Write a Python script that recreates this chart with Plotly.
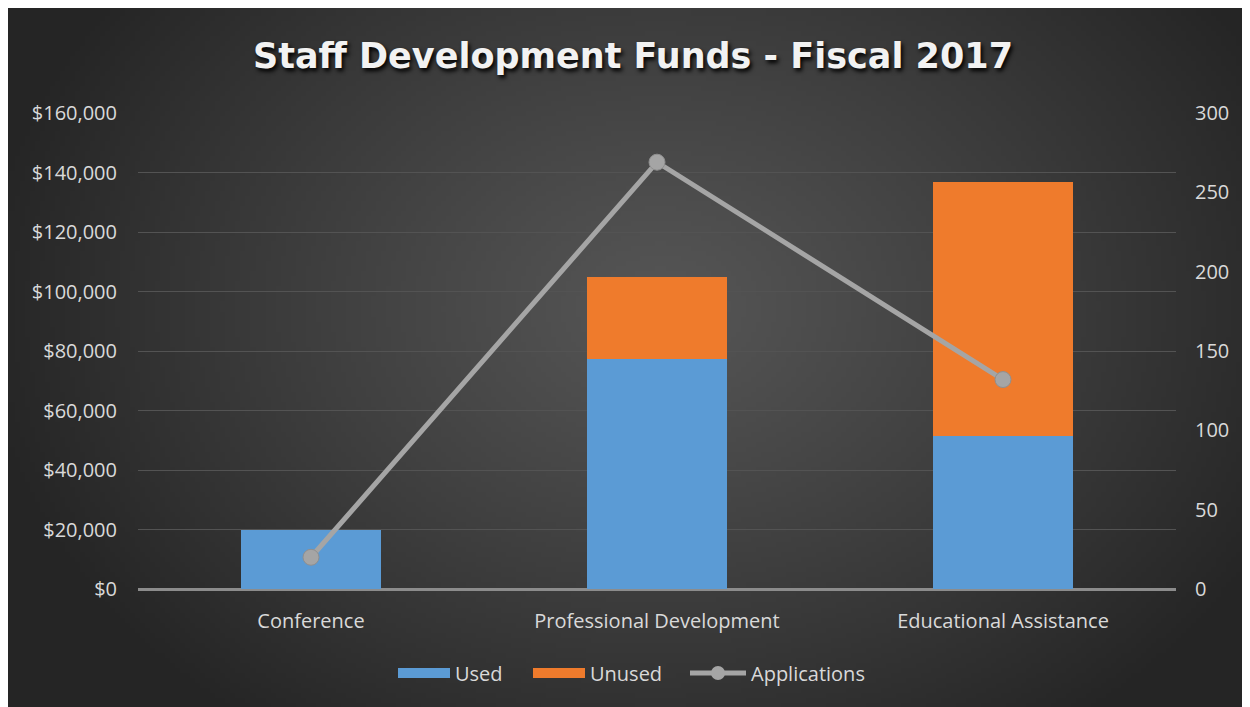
import base64, struct, zlib
import numpy as np
import plotly.graph_objects as go

categories = ["Conference", "Professional Development", "Educational Assistance"]
used = [19800, 77300, 51400]
unused = [0, 27600, 85400]
applications = [20, 269, 132]

W, H = 1250, 707
ML, MR, MT, MB = 130, 82, 105, 126
PW, PH = W - ML - MR, H - MT - MB


def make_png(arr):
    h, w, _ = arr.shape
    raw = b"".join(b"\x00" + arr[i].tobytes() for i in range(h))
    def chunk(tag, data):
        c = struct.pack(">I", len(data)) + tag + data
        return c + struct.pack(">I", zlib.crc32(tag + data) & 0xFFFFFFFF)
    png = b"\x89PNG\r\n\x1a\n"
    png += chunk(b"IHDR", struct.pack(">IIBBBBB", w, h, 8, 2, 0, 0, 0))
    png += chunk(b"IDAT", zlib.compress(raw, 9))
    png += chunk(b"IEND", b"")
    return "data:image/png;base64," + base64.b64encode(png).decode()


# radial background gradient (decoration)
gw, gh = 250, 141
yy, xx = np.mgrid[0:gh, 0:gw]
cx, cy = gw * 0.52, gh * 0.42
d = np.sqrt(((xx - cx) / (gw * 0.55)) ** 2 + ((yy - cy) / (gh * 0.75)) ** 2)
d = np.clip(d, 0, 1)
val = 0x56 + (0x25 - 0x56) * d ** 1.1
bg = np.stack([val, val, val], axis=-1).astype(np.uint8)
bg_uri = make_png(bg)

TXT = "#d9d9d9"
FONT = "Open Sans"
BLUE = "#5b9bd5"
ORANGE = "#ef7b2c"
GRAY = "#a5a5a5"

fig = go.Figure()
fig.add_trace(go.Bar(name="Used", x=categories, y=used, legendgroup="used",
                     showlegend=False,
                     marker=dict(color=BLUE, line=dict(width=0))))
fig.add_trace(go.Bar(name="Unused", x=categories, y=unused, legendgroup="unused",
                     showlegend=False,
                     marker=dict(color=ORANGE, line=dict(width=0))))
fig.add_trace(go.Scatter(name="Applications", x=categories, y=applications,
                         yaxis="y2", mode="lines+markers", showlegend=False,
                         legendgroup="apps",
                         line=dict(color=GRAY, width=5),
                         marker=dict(color=GRAY, size=16,
                                     line=dict(color="#8f8f8f", width=1))))
# legend swatches (wide rectangles like the original), one legend each
fig.add_trace(go.Scatter(name="Used", x=[None], y=[None], mode="lines",
                         legendgroup="used", legend="legend",
                         line=dict(color=BLUE, width=14)))
fig.add_trace(go.Scatter(name="Unused", x=[None], y=[None], mode="lines",
                         legendgroup="unused", legend="legend2",
                         line=dict(color=ORANGE, width=14)))
fig.add_trace(go.Scatter(name="Applications", x=[None], y=[None],
                         mode="lines+markers", legendgroup="apps",
                         legend="legend3",
                         line=dict(color=GRAY, width=5),
                         marker=dict(color=GRAY, size=14)))

leg_y = -(665 - (H - MB)) / PH


def leg(xpix, iw):
    return dict(orientation="h", x=(xpix - 13 - ML) / PW, xanchor="left",
                y=leg_y, yanchor="middle",
                font=dict(size=20, color=TXT), bgcolor="rgba(0,0,0,0)",
                itemwidth=iw)


fig.update_layout(
    width=W, height=H,
    margin=dict(l=ML, r=MR, t=MT, b=MB),
    paper_bgcolor="#262626",
    plot_bgcolor="rgba(0,0,0,0)",
    barmode="stack",
    bargap=0.595,
    font=dict(family=FONT, color=TXT, size=20),
    title=dict(text="<b>Staff Development Funds - Fiscal 2017</b>",
               x=0.5, xanchor="center", y=0.932, yanchor="middle",
               font=dict(family="DejaVu Sans", size=35, color="#f2f2f2",
                         shadow="2px 3px 4px #000000")),
    xaxis=dict(showgrid=False, showline=False, ticks="",
               tickfont=dict(size=20, color=TXT), ticklabelstandoff=18),
    yaxis=dict(range=[0, 160000], dtick=20000, tickprefix="$",
               tickformat=",d", gridcolor="#535353", gridwidth=1.2,
               zeroline=True, zerolinecolor="#8c8c8c", zerolinewidth=2.5,
               showline=False, ticks="", ticklabelstandoff=20,
               tickfont=dict(size=20, color=TXT)),
    yaxis2=dict(range=[0, 300], dtick=50, overlaying="y", side="right",
                showgrid=False, zeroline=False, showline=False, ticks="",
                ticklabelstandoff=18, tickfont=dict(size=20, color=TXT)),
    legend=leg(398, 52),
    legend2=leg(533, 52),
    legend3=leg(690, 56),
    images=[dict(source=bg_uri, xref="paper", yref="paper",
                 x=-ML / PW, y=1 + MT / PH, sizex=W / PW, sizey=H / PH,
                 xanchor="left", yanchor="top", sizing="stretch",
                 layer="below")],
)

fig.write_html("out.html")
